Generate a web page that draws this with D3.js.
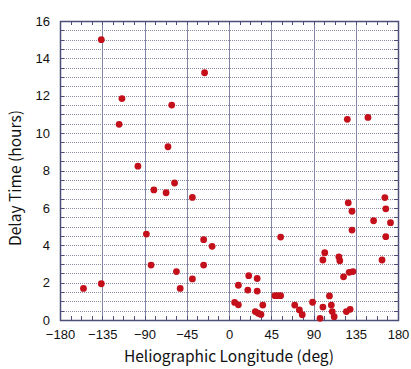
<!DOCTYPE html>
<html>
<head>
<meta charset="utf-8">
<script src="https://cdn.jsdelivr.net/npm/d3@7"></script>
<style>
  body { margin: 0; background: #fff; }
  svg { display: block; }
</style>
</head>
<body>
<svg width="411" height="369"></svg>
<script>
const svg = d3.select("svg");

// longitude (deg) and delay time (hours)
const longitude = [
  -136, -114, -117, -97, -26, -61, -65, 126, 148,
  -58, -80, -67, -39, -88, -27, -18, -83, -27, -56, -39, -136, -155, -52,
  6, 10, 10, 21, 20, 30, 30, 28, 31, 34, 36,
  49, 52, 55, 55, 70, 75, 78, 89, 97, 100, 100, 102, 107, 109, 110, 112,
  117, 118, 122, 128, 132, 125, 129,
  127, 131, 131, 154, 166, 167, 172, 167, 163
];
const delay = [
  15.0, 11.85, 10.47, 8.23, 13.23, 11.5, 9.27, 10.74, 10.84,
  7.33, 6.96, 6.81, 6.56, 4.6, 4.3, 3.94, 2.94, 2.94, 2.59, 2.2, 1.94, 1.69, 1.69,
  0.94, 0.81, 1.86, 2.37, 1.6, 2.22, 1.55, 0.45, 0.36, 0.3, 0.8,
  1.3, 1.3, 1.3, 4.44, 0.8, 0.54, 0.28, 0.95, 0.09, 0.69, 3.21, 3.6, 1.29, 0.8, 0.45, 0.18,
  3.38, 3.17, 2.31, 2.55, 2.59, 0.45, 0.57,
  6.27, 5.82, 4.81, 5.31, 6.55, 5.95, 5.21, 4.46, 3.21
];
const xTicks = [-180, -135, -90, -45, 0, 45, 90, 135, 180];
const yTicks = [0, 2, 4, 6, 8, 10, 12, 14, 16];

const plotLeft = 60, plotRight = 398, plotTop = 21, plotBottom = 320;

const x = d3.scaleLinear().domain([-180, 180]).range([plotLeft, plotRight]);
const y = d3.scaleLinear().domain([0, 16]).range([plotBottom, plotTop]);

const frameColor = "#4e4e7a";

// horizontal dotted grid every 0.5 h
svg.append("g")
  .selectAll("line")
  .data(d3.range(0.5, 16, 0.5))
  .enter().append("line")
  .attr("x1", plotLeft).attr("x2", plotRight)
  .attr("y1", d => Math.round(y(d)) + 0.5).attr("y2", d => Math.round(y(d)) + 0.5)
  .attr("stroke", "#8a8aa0")
  .attr("stroke-width", 1)
  .attr("stroke-dasharray", "1,1");

// vertical grid every 45 deg
svg.append("g")
  .selectAll("line")
  .data(xTicks.slice(1, -1))
  .enter().append("line")
  .attr("x1", d => Math.round(x(d)) + 0.5).attr("x2", d => Math.round(x(d)) + 0.5)
  .attr("y1", plotTop).attr("y2", plotBottom)
  .attr("stroke", "#8585a5")
  .attr("stroke-width", 1);

// minor ticks on x (every 11.25 deg), top and bottom, pointing inwards
const xMinor = d3.range(-180, 180.01, 11.25);
svg.append("g").selectAll("line")
  .data(xMinor).enter().append("line")
  .attr("x1", d => Math.round(x(d)) + 0.5).attr("x2", d => Math.round(x(d)) + 0.5)
  .attr("y1", plotBottom).attr("y2", plotBottom - 4)
  .attr("stroke", frameColor);
svg.append("g").selectAll("line")
  .data(xMinor).enter().append("line")
  .attr("x1", d => Math.round(x(d)) + 0.5).attr("x2", d => Math.round(x(d)) + 0.5)
  .attr("y1", plotTop).attr("y2", plotTop + 4)
  .attr("stroke", frameColor);

// y ticks every 0.5, both sides
const yMinor = d3.range(0, 16.01, 0.5);
svg.append("g").selectAll("line")
  .data(yMinor).enter().append("line")
  .attr("x1", plotLeft).attr("x2", plotLeft + 4)
  .attr("y1", d => Math.round(y(d)) + 0.5).attr("y2", d => Math.round(y(d)) + 0.5)
  .attr("stroke", frameColor);
svg.append("g").selectAll("line")
  .data(yMinor).enter().append("line")
  .attr("x1", plotRight - 4).attr("x2", plotRight)
  .attr("y1", d => Math.round(y(d)) + 0.5).attr("y2", d => Math.round(y(d)) + 0.5)
  .attr("stroke", frameColor);

// frame
svg.append("rect")
  .attr("x", plotLeft + 0.5).attr("y", plotTop + 0.5)
  .attr("width", plotRight - plotLeft).attr("height", plotBottom - plotTop)
  .attr("fill", "none")
  .attr("stroke", frameColor)
  .attr("stroke-width", 1.5);

// axes labels (tick lines hidden, only text)
const fmt = d => d < 0 ? "\u2212" + Math.abs(d) : d;
const xAxis = svg.append("g")
  .attr("transform", `translate(0,${plotBottom})`)
  .call(d3.axisBottom(x).tickValues(xTicks).tickFormat(fmt).tickSize(0).tickPadding(10));
const yAxis = svg.append("g")
  .attr("transform", `translate(${plotLeft},0)`)
  .call(d3.axisLeft(y).tickValues(yTicks).tickSize(0).tickPadding(10));

[xAxis, yAxis].forEach(a => {
  a.select(".domain").remove();
  a.selectAll("text")
    .attr("fill", "#111")
    .style("font-family", "'Liberation Sans', Arial, sans-serif")
    .style("font-size", "13px");
});

// points
svg.append("g")
  .selectAll("circle")
  .data(longitude.map((d, i) => ({lon: d, hrs: delay[i]})))
  .enter().append("circle")
  .attr("cx", d => x(d.lon))
  .attr("cy", d => y(d.hrs))
  .attr("r", 3.4)
  .attr("fill", "#c4101a");

// titles
svg.append("text")
  .attr("x", (plotLeft + plotRight) / 2)
  .attr("y", 362)
  .attr("text-anchor", "middle")
  .style("font-family", "'Noto Sans CJK JP', sans-serif")
  .style("font-size", "15.5px")
  .attr("fill", "#111")
  .text("Heliographic Longitude (deg)");

svg.append("text")
  .attr("transform", "translate(21,178) rotate(-90)")
  .attr("text-anchor", "middle")
  .style("font-family", "'Noto Sans CJK JP', sans-serif")
  .style("font-size", "15.5px")
  .attr("fill", "#111")
  .text("Delay Time (hours)");
</script>
</body>
</html>
